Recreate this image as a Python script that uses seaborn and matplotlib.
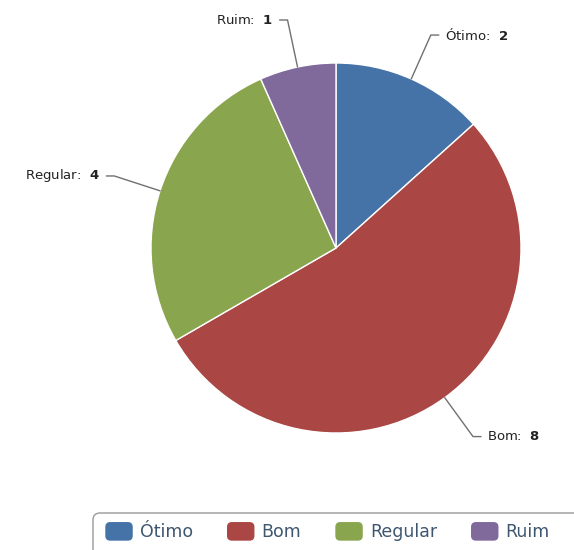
import numpy as np
import matplotlib.pyplot as plt
import seaborn as sns
from matplotlib.patches import FancyBboxPatch, Rectangle
from matplotlib.legend_handler import HandlerPatch

# Data
labels = ['Ótimo', 'Bom', 'Regular', 'Ruim']
values = [2, 8, 4, 1]
colors = ['#4572A7', '#AA4643', '#89A54E', '#80699B']

sns.set_theme(style='white')
plt.rcParams['font.family'] = ['DejaVu Sans']

fig = plt.figure(figsize=(5.74, 5.50), dpi=100)
ax = fig.add_axes([0, 0, 1, 1])

# pie centre and radius in pixel units (y measured from bottom)
cx, cy, r = 336, 302, 185
wedges, _ = ax.pie(values, colors=colors, startangle=90, counterclock=False,
                   center=(cx, cy), radius=r,
                   wedgeprops=dict(edgecolor='white', linewidth=1))
ax.set_xlim(0, 574)
ax.set_ylim(0, 550)
ax.set_aspect('equal')
ax.axis('off')

# data labels with elbow connectors
for w, lab, v in zip(wedges, labels, values):
    mid = np.deg2rad((w.theta1 + w.theta2) / 2)
    x0, y0 = cx + r * np.cos(mid), cy + r * np.sin(mid)
    x1, y1 = cx + 1.26 * r * np.cos(mid), cy + 1.26 * r * np.sin(mid)
    side = 1 if np.cos(mid) >= 0 else -1
    x2 = x1 + side * 8
    ax.plot([x0, x1, x2], [y0, y1, y1], color='#707070', lw=1)
    ax.text(x2 + side * 6, y1, f'{lab}:  $\\mathbf{{{v}}}$',
            ha='left' if side > 0 else 'right', va='center',
            fontsize=9.5, color='#222222')


# rounded legend swatches
def rounded(legend, orig_handle, xdescent, ydescent, width, height, fontsize):
    return FancyBboxPatch((-xdescent, -ydescent), width, height,
                          boxstyle='round,pad=0,rounding_size=3')


handles = [Rectangle((0, 0), 1, 1, color=c) for c in colors]
ax.legend(handles, labels, handler_map={Rectangle: HandlerPatch(patch_func=rounded)},
          loc='center left', bbox_to_anchor=(106 / 574, (550 - 532) / 550),
          ncol=4, frameon=False, fontsize=12.5, handlelength=1.5,
          handleheight=1.15, handletextpad=0.45, columnspacing=2.0,
          borderpad=0, borderaxespad=0, labelcolor='#3E576F')

# legend box, running off the bottom-right edge like the reference
ax.add_patch(FancyBboxPatch((93, -30), 540, 67,
                            boxstyle='round,pad=0,rounding_size=7',
                            fc='none', ec='#999999', lw=1))

fig.savefig('out.png', dpi=100)
